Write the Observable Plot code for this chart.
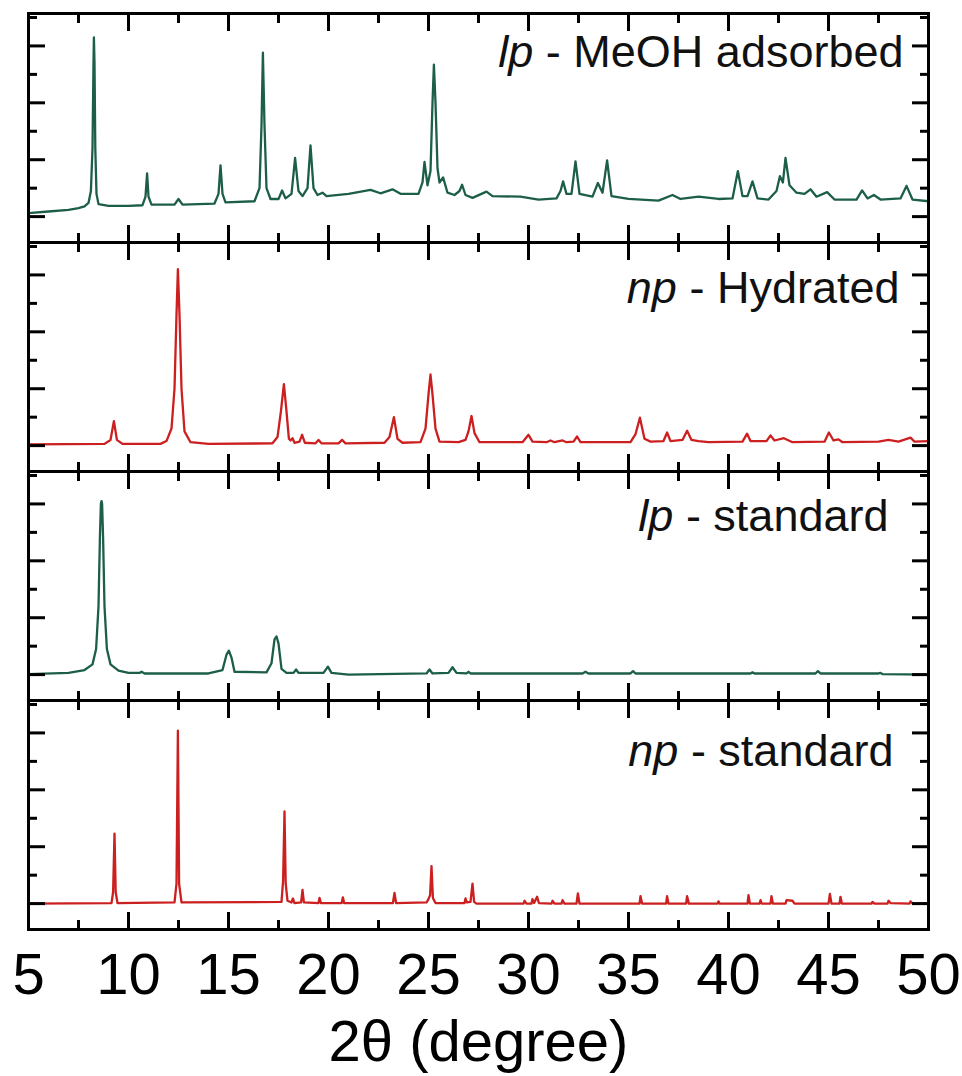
<!DOCTYPE html>
<html>
<head>
<meta charset="utf-8">
<script src="https://cdn.jsdelivr.net/npm/d3@7"></script>
<script src="https://cdn.jsdelivr.net/npm/@observablehq/plot@0.6"></script>
<style>
  html, body { margin: 0; padding: 0; background: #fff; overflow: hidden; }
  #chart svg { display: block; }
</style>
</head>
<body>
<div id="chart"></div>
<script>
// Panel names (top to bottom)
const panels = ["lp - MeOH adsorbed", "np - Hydrated", "lp - standard", "np - standard"];
const panelColors = ["#1c5e49", "#cc1f1f", "#1c5e49", "#cc1f1f"];

// x tick values
const xMajor = [5, 10, 15, 20, 25, 30, 35, 40, 45, 50];
const xMinor = [7.5, 12.5, 17.5, 22.5, 27.5, 32.5, 37.5, 42.5, 47.5];
// y tick values (arbitrary intensity units)
const yMajor = [0, 1, 2, 3];
const yMinor = [0.5, 1.5, 2.5, 3.5];

// Patterns: [2θ, intensity]
const lpMeOH = [[5,.06],[6,.09],[7,.12],[7.5,.15],[7.8,.18],[8.0,.24],[8.12,.45],[8.2,1.2],[8.25,2.7],[8.27,3.15],[8.3,2.7],[8.34,1.2],[8.4,.4],[8.5,.22],[9,.19],[10,.19],[10.7,.2],[10.85,.35],[10.93,.76],[11.0,.35],[11.15,.21],[12.3,.21],[12.5,.31],[12.7,.21],[14.3,.23],[14.5,.4],[14.6,.9],[14.7,.4],[14.85,.25],[16.3,.27],[16.55,.5],[16.65,1.6],[16.72,2.88],[16.8,1.6],[16.9,.5],[17.1,.31],[17.5,.31],[17.68,.46],[17.85,.32],[18.15,.4],[18.33,1.03],[18.5,.45],[18.7,.36],[18.95,.5],[19.1,1.25],[19.25,.5],[19.45,.38],[19.7,.42],[19.9,.36],[21,.40],[22.1,.47],[22.6,.41],[23.2,.48],[23.6,.40],[24.5,.40],[24.7,.6],[24.8,.96],[24.95,.55],[25.1,.8],[25.2,2.0],[25.27,2.67],[25.35,2.0],[25.45,.85],[25.55,.6],[25.73,.69],[25.95,.42],[26.3,.38],[26.55,.45],[26.68,.56],[26.85,.38],[27.2,.33],[27.9,.44],[28.2,.36],[29.6,.35],[30.5,.30],[31.4,.32],[31.6,.45],[31.73,.62],[31.9,.40],[32.15,.40],[32.35,.97],[32.55,.40],[33.2,.35],[33.47,.59],[33.7,.42],[33.93,.99],[34.15,.36],[35,.31],[36.5,.28],[37.2,.38],[37.6,.31],[38.5,.35],[39.5,.31],[40.2,.32],[40.47,.80],[40.7,.36],[40.95,.36],[41.2,.62],[41.45,.32],[42,.30],[42.4,.45],[42.57,.71],[42.72,.6],[42.85,1.03],[43.05,.55],[43.4,.42],[43.8,.40],[44.1,.48],[44.4,.35],[44.93,.43],[45.3,.30],[46.4,.30],[46.68,.46],[46.95,.32],[47.27,.38],[47.6,.30],[48.6,.32],[48.9,.54],[49.2,.30],[50,.27]];

const npHydrated = [[5,.02],[8.8,.03],[9.1,.1],[9.27,.43],[9.42,.1],[9.7,.03],[11.6,.03],[11.9,.08],[12.15,.3],[12.3,1.0],[12.4,2.3],[12.47,3.10],[12.55,2.3],[12.65,1.0],[12.8,.25],[13.1,.06],[14,.03],[17.2,.04],[17.45,.15],[17.62,.6],[17.77,1.08],[17.9,.6],[18.02,.12],[18.1,.09],[18.2,.13],[18.3,.05],[18.55,.07],[18.68,.19],[18.82,.05],[19.35,.04],[19.5,.10],[19.65,.04],[20.5,.04],[20.68,.10],[20.85,.04],[22.8,.05],[23.05,.15],[23.27,.50],[23.45,.12],[23.7,.05],[24.6,.06],[24.85,.3],[25.0,.9],[25.1,1.25],[25.2,.9],[25.35,.3],[25.55,.07],[26.5,.06],[26.85,.1],[27.0,.25],[27.15,.52],[27.3,.22],[27.55,.06],[29.7,.06],[30.0,.19],[30.2,.07],[30.9,.06],[31.1,.09],[31.3,.06],[31.7,.09],[31.9,.06],[32.25,.07],[32.43,.16],[32.6,.06],[35.1,.06],[35.35,.2],[35.57,.49],[35.8,.12],[36.1,.07],[36.75,.08],[36.93,.23],[37.1,.08],[37.7,.10],[37.93,.26],[38.15,.10],[38.5,.08],[39,.06],[40.7,.07],[40.93,.21],[41.1,.08],[41.9,.08],[42.1,.18],[42.3,.09],[42.77,.13],[43.2,.06],[44.8,.07],[45.02,.23],[45.25,.09],[45.5,.11],[45.7,.06],[47.5,.07],[48.0,.10],[48.5,.07],[49.1,.14],[49.3,.07],[50,.08]];

const lpStandard = [[5,.01],[7.0,.03],[7.8,.08],[8.2,.18],[8.38,.45],[8.5,1.2],[8.57,2.4],[8.62,3.0],[8.65,3.05],[8.68,3.0],[8.73,2.4],[8.8,1.2],[8.92,.45],[9.1,.18],[9.5,.07],[10,.03],[10.55,.03],[10.65,.05],[10.8,.02],[14,.02],[14.7,.08],[14.9,.35],[15.02,.42],[15.15,.3],[15.3,.05],[16.9,.04],[17.15,.2],[17.3,.62],[17.4,.67],[17.5,.55],[17.65,.1],[17.9,.03],[18.25,.03],[18.38,.09],[18.5,.03],[19.75,.03],[19.97,.14],[20.15,.03],[21,0],[24.9,.02],[25.05,.09],[25.2,.02],[26.0,.03],[26.2,.13],[26.4,.03],[26.9,.02],[27.0,.05],[27.1,.02],[30,.02],[32.7,.02],[32.85,.05],[33,.02],[35.1,.02],[35.23,.06],[35.35,.02],[41.1,.02],[41.2,.04],[41.3,.02],[44.35,.02],[44.47,.06],[44.6,.02],[47.5,.02],[47.6,.03],[47.7,.01],[50,0]];

const npStandard = [[5,0],[9.15,.01],[9.23,.2],[9.3,1.23],[9.36,.2],[9.45,.01],[12.3,.02],[12.4,.35],[12.47,3.04],[12.53,.35],[12.65,.02],[17.65,.03],[17.73,.4],[17.8,1.62],[17.86,.35],[17.95,.05],[18.15,.02],[18.22,.09],[18.3,.01],[18.63,.02],[18.7,.24],[18.77,.02],[19.5,.01],[19.55,.10],[19.62,.01],[20.66,.01],[20.72,.11],[20.78,.01],[23.22,.01],[23.3,.19],[23.38,.01],[24.9,.02],[25.0,.08],[25.08,.15],[25.15,.66],[25.22,.1],[25.35,.01],[26.8,.01],[26.85,.09],[26.92,.02],[27.1,.03],[27.2,.35],[27.28,.03],[27.4,0],[29.75,0],[29.8,.05],[29.9,0],[30.15,0],[30.2,.08],[30.28,.01],[30.43,.12],[30.52,.01],[31.15,0],[31.2,.05],[31.3,0],[31.65,0],[31.7,.06],[31.8,0],[32.4,0],[32.47,.18],[32.55,0],[35.55,0],[35.6,.13],[35.68,0],[36.88,0],[36.93,.13],[37.0,0],[37.88,0],[37.93,.13],[38.02,0],[39.45,0],[39.5,.04],[39.56,0],[40.95,0],[41.0,.15],[41.07,0],[41.55,0],[41.6,.06],[41.66,0],[42.1,0],[42.15,.13],[42.22,0],[42.85,0],[42.9,.06],[43.2,.05],[43.3,0],[45.0,0],[45.07,.17],[45.15,0],[45.55,0],[45.6,.12],[45.67,0],[47.15,0],[47.2,.03],[47.3,0],[47.95,0],[48.0,.05],[48.1,.01],[49.05,0],[49.1,.04],[49.2,0],[50,.01]];

const series = [lpMeOH, npHydrated, lpStandard, npStandard];
const rows = series.flatMap((s, i) => s.map(([x, y]) => ({x, y, panel: panels[i]})));

// label placement offsets (px from each panel's top-right corner)
const labelDx = [-25, -29, -40, -35];
const labelDy = [22, 29, 28, 34];

const tickStyle = {strokeWidth: 3, fill: "none"};

const chart = Plot.plot({
  width: 962,
  height: 1076,
  marginTop: 12,
  marginLeft: 28,
  marginRight: 34,
  marginBottom: 146,
  style: {fontFamily: "'Liberation Sans', Arial, Helvetica, sans-serif", background: "#fff", color: "#000"},
  x: {domain: [5, 50]},
  y: {domain: [-0.455, 3.57]},
  fy: {domain: panels, padding: 0, axis: null},
  color: {domain: panels, range: panelColors},
  marks: [
    Plot.line(rows, {x: "x", y: "y", fy: "panel", stroke: "panel", strokeWidth: 2.3, strokeLinejoin: "round"}),
    // inward ticks
    Plot.axisX({anchor: "bottom", ticks: xMajor, tickSize: -17, facetAnchor: null, ...tickStyle}),
    Plot.axisX({anchor: "bottom", ticks: xMinor, tickSize: -9, facetAnchor: null, ...tickStyle}),
    Plot.axisX({anchor: "top", ticks: xMajor, tickSize: -17, facetAnchor: null, ...tickStyle}),
    Plot.axisX({anchor: "top", ticks: xMinor, tickSize: -9, facetAnchor: null, ...tickStyle}),
    Plot.axisY({anchor: "left", ticks: yMajor, tickSize: -17, ...tickStyle}),
    Plot.axisY({anchor: "left", ticks: yMinor, tickSize: -9, ...tickStyle}),
    Plot.axisY({anchor: "right", ticks: yMajor, tickSize: -17, ...tickStyle}),
    Plot.axisY({anchor: "right", ticks: yMinor, tickSize: -9, ...tickStyle}),
    // tick labels + axis title
    Plot.axisX({anchor: "bottom", ticks: xMajor, tickSize: 0, tickPadding: 23, fontSize: 58,
      label: "2θ (degree)", labelAnchor: "center", labelArrow: "none", labelOffset: 131, stroke: "none"}),
    Plot.frame({strokeWidth: 3, stroke: "#000"}),
    ...panels.map((p, i) => Plot.text([p], {fy: d => d, text: d => d, frameAnchor: "top-right",
      dx: labelDx[i], dy: labelDy[i], lineAnchor: "top", fontSize: 45, fill: "#111", className: "panel-label"}))
  ]
});

// italic prefix in the panel labels
d3.select(chart).selectAll(".panel-label text").each(function () {
  const t = this.textContent;
  const i = t.indexOf(" - ");
  const sel = d3.select(this);
  sel.text(null);
  sel.append("tspan").attr("font-style", "italic").text(t.slice(0, i));
  sel.append("tspan").text(t.slice(i));
});

document.getElementById("chart").append(chart);
</script>
</body>
</html>
